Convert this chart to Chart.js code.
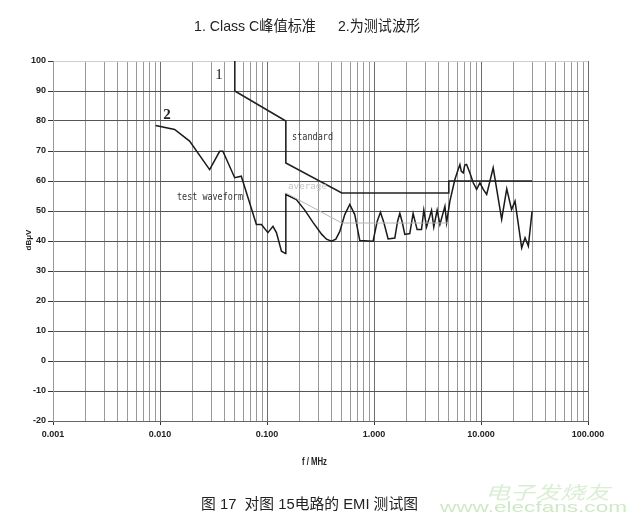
<!DOCTYPE html>
<html>
<head>
<meta charset="utf-8">
<script src="https://cdn.jsdelivr.net/npm/chart.js@4/dist/chart.umd.min.js"></script>
<style>
  html, body { margin: 0; padding: 0; background: #fff; }
  #wrap { width: 633px; height: 521px; position: relative; }
</style>
</head>
<body>
<div id="wrap"><canvas id="emi"></canvas></div>
<script>
// curve 1: Class C peak limit (MHz, dB)
const standardFreq = [0.05, 0.05, 0.15, 0.15, 0.5, 5, 5, 30];
const standardLevel = [100, 90, 80, 66, 56, 56, 60, 60];

// faint grey limit line
const averageFreq = [0.15, 0.5, 5];
const averageLevel = [56, 46, 46];

// curve 2: measured waveform
const waveFreq = [0.0091, 0.0137, 0.0189, 0.0291, 0.0361, 0.0387, 0.0499, 0.0575, 0.0796, 0.0887,
  0.102, 0.1137, 0.1225, 0.1365, 0.149, 0.15, 0.188, 0.2255, 0.269, 0.325,
  0.36, 0.40, 0.44, 0.479, 0.533, 0.594, 0.661, 0.736, 0.98, 1.07, 1.15, 1.24, 1.355, 1.565,
  1.66, 1.743, 1.83, 1.94, 2.16, 2.32, 2.53, 2.78, 2.92, 3.10, 3.45, 3.62,
  3.89, 4.13, 4.60, 4.77, 5.12, 5.70, 6.12, 6.35, 6.55, 6.82,
  7.05, 7.33, 7.88, 8.46, 9.10, 9.77, 10.5, 11.3, 13.0, 15.6,
  17.4, 19.3, 20.8, 24.0, 25.8, 27.7, 30];
const waveLevel = [78.5, 77.2, 73.3, 63.8, 69.9, 69.9, 61.1, 61.6, 45.5, 45.5,
  42.8, 44.9, 42.8, 36.6, 35.8, 55.5, 53.8, 50.3, 46.2, 42.2,
  40.6, 39.9, 40.6, 43.2, 48.8, 52.2, 48.8, 40.2, 39.9, 46.5, 49.6, 46.0, 40.7, 41,
  46.5, 49.2, 46.5, 42.2, 42.5, 49.2, 43.8, 43.8, 50.3, 44.7, 50.2, 44.7,
  50.3, 45.5, 51.6, 46.1, 53.3, 60.5, 63.8, 65.5, 63.2, 62.7,
  65.3, 65.5, 62.7, 59.4, 57.2, 59.4, 57.2, 55.5, 64.4, 47.2,
  57.4, 50.5, 53.3, 37.7, 41.1, 38.3, 49.9];

// axis ticks
const xDecades = [0.001, 0.01, 0.1, 1, 10];
const xMultipliers = [1, 2, 3, 4, 5, 6, 7, 8, 9];
const xTickValues = [];
xDecades.forEach(d => xMultipliers.forEach(m => xTickValues.push(Number((d * m).toPrecision(3)))));
xTickValues.push(100);

function isDecade(v) {
  const l = Math.log10(v);
  return Math.abs(l - Math.round(l)) < 1e-6;
}

function toPoints(xs, ys) {
  return xs.map((x, i) => ({ x: x, y: ys[i] }));
}

function fitText(ctx, str, x0, x1, y, font, color) {
  ctx.save();
  ctx.font = font;
  const w = ctx.measureText(str).width;
  ctx.translate(x0, y);
  ctx.scale((x1 - x0) / w, 1);
  ctx.fillStyle = color;
  ctx.textAlign = 'left';
  ctx.textBaseline = 'middle';
  ctx.fillText(str, 0, 0);
  ctx.restore();
}

const textPlugin = {
  id: 'texts',
  afterDraw(chart) {
    const ctx = chart.ctx;
    const cjk = '"Liberation Sans", "Noto Sans CJK SC", sans-serif';
    fitText(ctx, '1. Class C峰值标准', 194, 316, 27, '15px ' + cjk, '#222');
    fitText(ctx, '2.为测试波形', 338, 420, 27, '15px ' + cjk, '#222');
    fitText(ctx, '图 17  对图 15电路的 EMI 测试图', 201, 418, 505, '15px ' + cjk, '#222');

    // curve labels
    ctx.save();
    ctx.fillStyle = '#222';
    ctx.textAlign = 'center';
    ctx.textBaseline = 'middle';
    ctx.font = '15px "Liberation Serif", serif';
    ctx.fillText('1', 219, 75);
    ctx.font = 'bold 15px "Liberation Serif", serif';
    ctx.fillText('2', 167, 115);
    ctx.restore();
    fitText(ctx, 'standard', 292, 333, 137, '10px "DejaVu Sans Mono", monospace', '#333');
    fitText(ctx, 'test waveform', 177, 243, 197, '10px "DejaVu Sans Mono", monospace', '#333');
    fitText(ctx, 'average', 288, 327, 187, '8px "DejaVu Sans Mono", monospace', '#c4c4c4');

    // axis titles
    fitText(ctx, 'f / MHz', 302, 327, 462, 'bold 10px "Liberation Sans Narrow", sans-serif', '#222');
    ctx.save();
    ctx.translate(29, 240);
    ctx.rotate(-Math.PI / 2);
    ctx.fillStyle = '#222';
    ctx.font = 'bold 8px "Liberation Sans Narrow", sans-serif';
    ctx.textAlign = 'center';
    ctx.textBaseline = 'middle';
    ctx.fillText('dBμV', 0, 0);
    ctx.restore();

    // watermark
    fitText(ctx, '电子发烧友', 485, 610, 492, 'italic 18px "Noto Sans CJK SC", sans-serif', '#dbeed4');
    fitText(ctx, 'www.elecfans.com', 440, 627, 508, '15px "Liberation Sans", sans-serif', '#cfe8c6');
  }
};

const tickFont = { family: '"Liberation Sans Narrow", sans-serif', size: 9, weight: 'bold' };

const config = {
  type: 'line',
  data: {
    datasets: [
      {
        label: 'average',
        data: toPoints(averageFreq, averageLevel),
        borderColor: '#b5b5b5',
        borderWidth: 1,
        pointRadius: 0,
        tension: 0
      },
      {
        label: 'standard',
        data: toPoints(standardFreq, standardLevel),
        borderColor: '#222',
        borderWidth: 1.6,
        pointRadius: 0,
        tension: 0
      },
      {
        label: 'test waveform',
        data: toPoints(waveFreq, waveLevel),
        borderColor: '#1a1a1a',
        borderWidth: 1.5,
        pointRadius: 0,
        tension: 0
      }
    ]
  },
  options: {
    responsive: true,
    maintainAspectRatio: false,
    animation: false,
    devicePixelRatio: 1,
    layout: { padding: { top: 61, left: 0, right: 45, bottom: 0 } },
    plugins: {
      legend: { display: false },
      tooltip: { enabled: false }
    },
    scales: {
      x: {
        type: 'logarithmic',
        min: 0.001,
        max: 100,
        afterBuildTicks: (axis) => { axis.ticks = xTickValues.map(v => ({ value: v })); },
        afterFit: (axis) => { axis.height = 100; },
        grid: {
          color: (c) => (c.tick && isDecade(c.tick.value)) ? '#6e6e6e' : '#999',
          tickColor: (c) => (c.tick && isDecade(c.tick.value)) ? '#333' : 'rgba(0,0,0,0)',
          tickLength: 4,
          lineWidth: 1
        },
        border: { color: '#666' },
        ticks: {
          autoSkip: false,
          maxRotation: 0,
          padding: 4,
          color: '#222',
          font: tickFont,
          callback: (v) => isDecade(v) ? Number(v).toFixed(3) : ''
        }
      },
      y: {
        min: -20,
        max: 100,
        afterFit: (axis) => { axis.width = 53; },
        grid: {
          color: (c) => (c.tick && c.tick.value === 100) ? '#cfcfcf' : '#555',
          tickColor: '#333',
          tickLength: 5
        },
        border: { color: '#999' },
        ticks: {
          stepSize: 10,
          padding: 2,
          color: '#222',
          font: tickFont
        }
      }
    }
  },
  plugins: [textPlugin]
};

const chart = new Chart(document.getElementById('emi'), config);
</script>
</body>
</html>
